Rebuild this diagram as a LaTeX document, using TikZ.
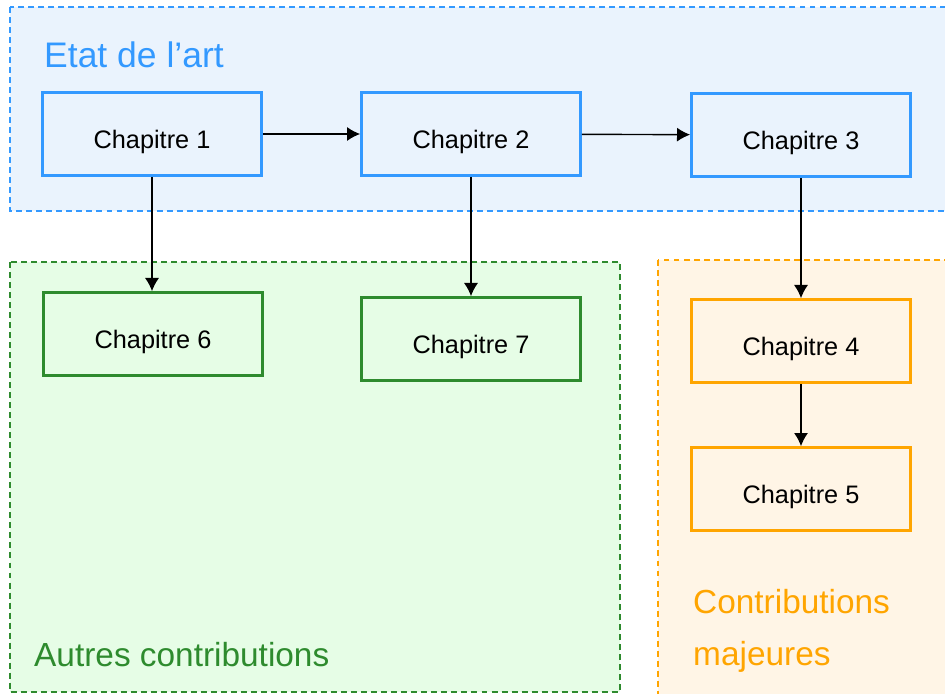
\documentclass[tikz,border=0pt]{standalone}
\usepackage{fontspec}
\setmainfont{Liberation Sans}
\usepackage{xcolor}
\definecolor{ArtLine}{HTML}{3399FF}
\definecolor{ArtBg}{HTML}{EAF3FD}
\definecolor{AutLine}{HTML}{2E8B2E}
\definecolor{AutBg}{HTML}{E6FDE6}
\definecolor{MajLine}{HTML}{FFA500}
\definecolor{MajBg}{HTML}{FFF5E6}
\usetikzlibrary{arrows.meta,positioning}

\begin{document}
\begin{tikzpicture}[x=0.2mm, y=-0.2mm, >={Latex[length=7.5pt,width=8pt]},
  every node/.style={font=\fontsize{14.4}{16}\selectfont},
  chap/.style={draw, line width=1.5pt, minimum width=43.8mm, minimum height=16.6mm, text height=16pt, text depth=0pt},
  zone/.style={dashed, line width=1.1pt, dash pattern=on 3.4pt off 2.3pt},
  title/.style={font=\fontsize{19}{29.5}\selectfont, anchor=west, align=left}]
  \clip (0,0) rectangle (945,694);
  % zones
  \draw[zone, draw=ArtLine, fill=ArtBg] (10,7) rectangle (960,211);
  \draw[zone, draw=AutLine, fill=AutBg, line width=1pt] (10,262) rectangle (620,692);
  \draw[zone, draw=MajLine, fill=MajBg, line width=1pt] (658,260) rectangle (960,720);
  \node[title, text=ArtLine, font=\fontsize{20.2}{24}\selectfont] (art) at (38,55) {Etat de l'art};
  \node[title, text=AutLine] (aut) at (28,655) {Autres contributions};
  \node[title, text=MajLine] (maj) at (687,631) {Contributions\\majeures};
  % chapitres
  \node[chap, draw=ArtLine, fill=ArtBg] (c1) at (152,134) {Chapitre 1};
  \node[chap, draw=ArtLine, fill=ArtBg] (c2) at (471,134) {Chapitre 2};
  \node[chap, draw=ArtLine, fill=ArtBg] (c3) at (801,135) {Chapitre 3};
  \node[chap, draw=AutLine, fill=AutBg] (c6) at (153,334) {Chapitre 6};
  \node[chap, draw=AutLine, fill=AutBg] (c7) at (471,339) {Chapitre 7};
  \node[chap, draw=MajLine, fill=MajBg] (c4) at (801,341) {Chapitre 4};
  \node[chap, draw=MajLine, fill=MajBg] (c5) at (801,489) {Chapitre 5};
  \draw[->, line width=0.8pt] (c1) -- (c2); \draw[->, line width=0.8pt] (c2) -- (c3);
  \draw[->, line width=0.8pt] (c1.south) -- (c1.south |- c6.north);
  \draw[->, line width=0.8pt] (c2) -- (c7); \draw[->, line width=0.8pt] (c3) -- (c4);
  \draw[->, line width=0.8pt] (c4) -- (c5);
\end{tikzpicture}
\end{document}
